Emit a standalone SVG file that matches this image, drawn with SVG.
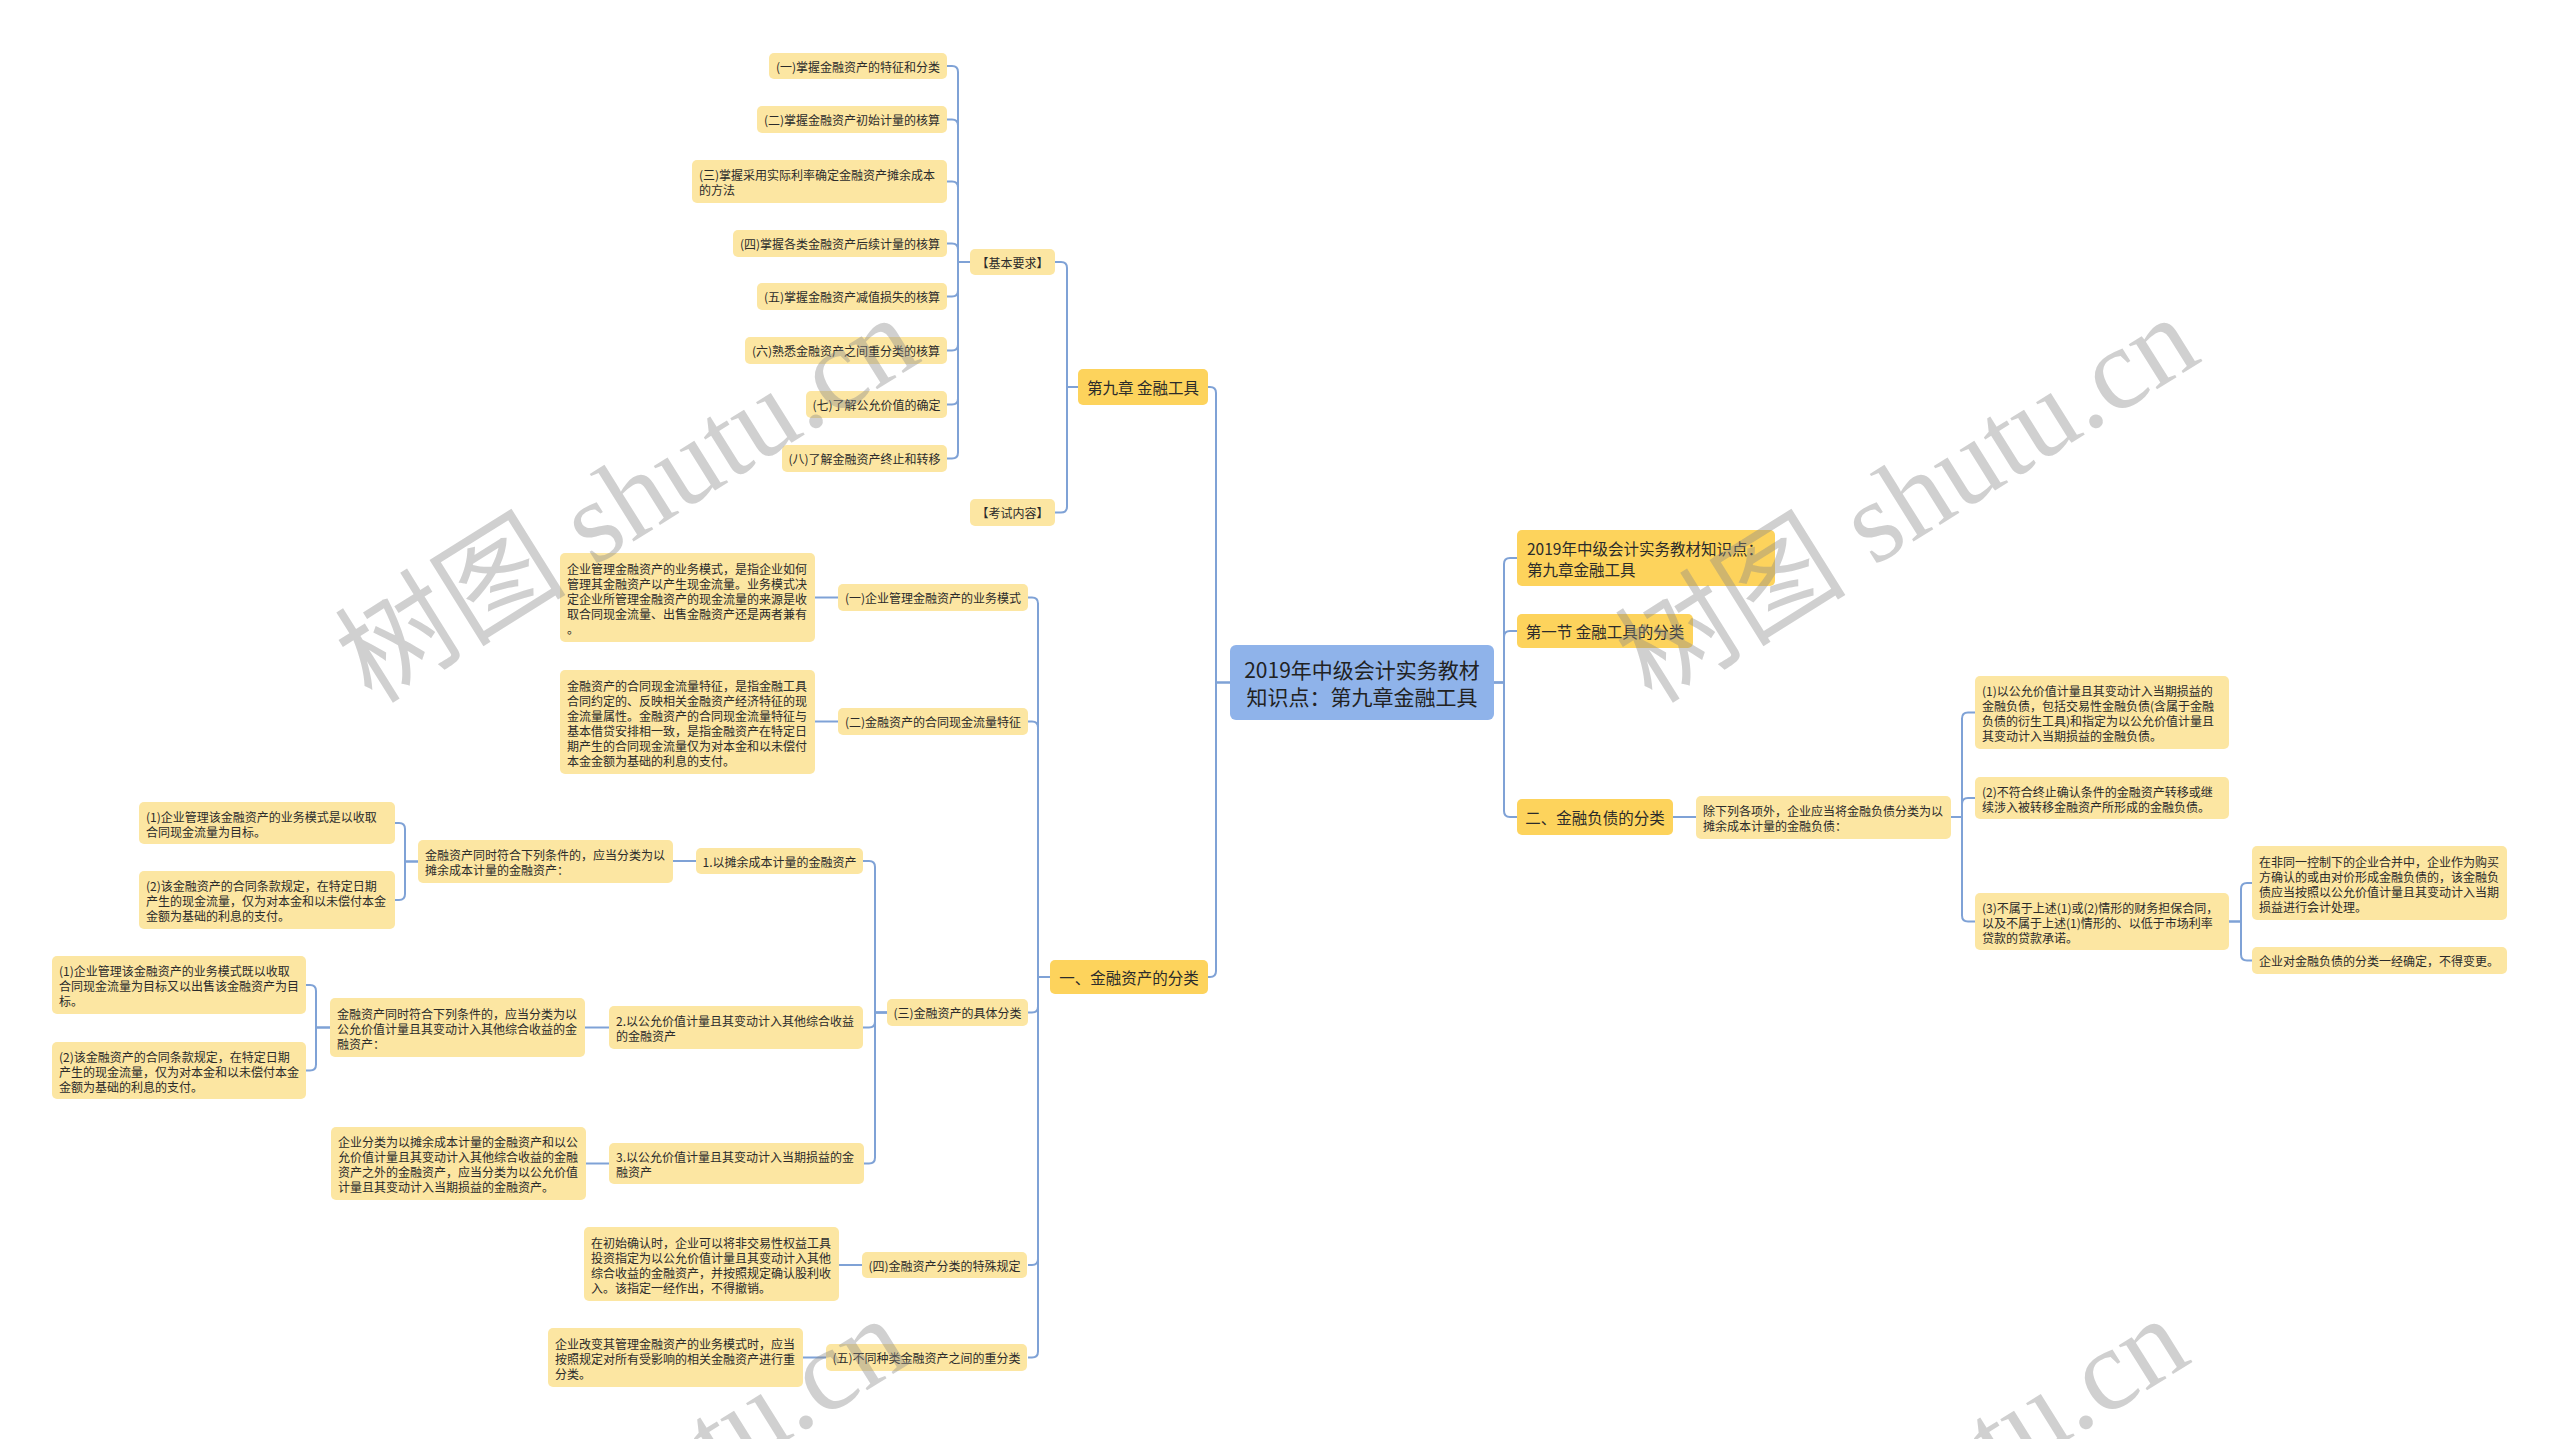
<svg xmlns="http://www.w3.org/2000/svg" width="2560" height="1439" viewBox="0 0 2560 1439">
<style>
text{font-family:"Noto Sans CJK SC","Noto Sans",sans-serif;fill:#2b2b2b;dominant-baseline:central}
.leaf rect{fill:#fce6a2}
.main rect{fill:#fdd35c}
.root rect{fill:#8fb3ea}
.leaf text{font-size:12px}
.main text{font-size:15.5px}
.root text{font-size:21px;fill:#222}
.c{text-anchor:middle}
#connectors path{fill:none;stroke:#7fa2d6;stroke-width:2}
.wm{font-family:"Liberation Serif","Noto Sans CJK SC",serif;font-size:116px;fill:#8a8a8a;fill-opacity:0.4;dominant-baseline:auto}
</style>
<rect width="2560" height="1439" fill="#ffffff"/>
<g id="connectors">
<path d="M970,262 H958 V72 Q958,66 952,66 H947"/>
<path d="M970,262 H958 V125.5 Q958,119.5 952,119.5 H947"/>
<path d="M970,262 H958 V187.5 Q958,181.5 952,181.5 H947"/>
<path d="M970,262 H958 V249.5 Q958,243.5 952,243.5 H947"/>
<path d="M970,262 H958 V290.5 Q958,296.5 952,296.5 H947"/>
<path d="M970,262 H958 V344.5 Q958,350.5 952,350.5 H947"/>
<path d="M970,262 H958 V398.5 Q958,404.5 952,404.5 H947"/>
<path d="M970,262 H958 V452.5 Q958,458.5 952,458.5 H947"/>
<path d="M1078,387 H1067 V268 Q1067,262 1061,262 H1055"/>
<path d="M1078,387 H1067 V506.5 Q1067,512.5 1061,512.5 H1055"/>
<path d="M1230,682.5 H1216 V393 Q1216,387 1210,387 H1208"/>
<path d="M1230,682.5 H1216 V971 Q1216,977 1210,977 H1208"/>
<path d="M1494,682.5 H1504 V564 Q1504,558 1510,558 H1517"/>
<path d="M1494,682.5 H1504 V637 Q1504,631 1510,631 H1517"/>
<path d="M1494,682.5 H1504 V811 Q1504,817 1510,817 H1517"/>
<path d="M1673,817 H1696"/>
<path d="M1951,817 H1962 V718.5 Q1962,712.5 1968,712.5 H1975"/>
<path d="M1951,817 H1962 V804 Q1962,798 1968,798 H1975"/>
<path d="M1951,817 H1962 V915.5 Q1962,921.5 1968,921.5 H1975"/>
<path d="M2229,921.5 H2241 V889 Q2241,883 2247,883 H2252"/>
<path d="M2229,921.5 H2241 V954.5 Q2241,960.5 2247,960.5 H2252"/>
<path d="M1050,977 H1038 V603.5 Q1038,597.5 1032,597.5 H1028"/>
<path d="M1050,977 H1038 V727.5 Q1038,721.5 1032,721.5 H1028"/>
<path d="M1050,977 H1038 V1006.5 Q1038,1012.5 1032,1012.5 H1028"/>
<path d="M1050,977 H1038 V1259 Q1038,1265 1032,1265 H1028"/>
<path d="M1050,977 H1038 V1351.5 Q1038,1357.5 1032,1357.5 H1028"/>
<path d="M838,597.5 H815"/>
<path d="M838,721.5 H815"/>
<path d="M887,1012.5 H875 V867 Q875,861 869,861 H863"/>
<path d="M887,1012.5 H875 V1021.5 Q875,1027.5 869,1027.5 H863"/>
<path d="M887,1012.5 H875 V1157.5 Q875,1163.5 869,1163.5 H864"/>
<path d="M696,861 H673"/>
<path d="M418,861.5 H405 V829 Q405,823 399,823 H395"/>
<path d="M418,861.5 H405 V894 Q405,900 399,900 H395"/>
<path d="M609,1027.5 H585"/>
<path d="M330,1027.5 H316 V991 Q316,985 310,985 H306"/>
<path d="M330,1027.5 H316 V1064.5 Q316,1070.5 310,1070.5 H306"/>
<path d="M609,1163.5 H586"/>
<path d="M862,1265 H839"/>
<path d="M826,1357.5 H803"/>
</g>

<g id="root" class="root"><rect x="1230" y="645" width="264" height="75" rx="6"/>
<text class="c"><tspan x="1362" y="669">2019年中级会计实务教材</tspan><tspan x="1362" y="696">知识点：第九章金融工具</tspan></text></g>

<g id="ch9" class="main"><rect x="1078" y="369" width="130" height="36" rx="5"/><text class="c" x="1143" y="387">第九章 金融工具</text></g>
<g id="basic" class="leaf"><rect x="970" y="249" width="85" height="26" rx="5"/><text class="c" x="1012.5" y="262">【基本要求】</text></g>
<g id="exam" class="leaf"><rect x="970" y="499" width="85" height="27" rx="5"/><text class="c" x="1012.5" y="512.5">【考试内容】</text></g>

<g id="b1" class="leaf"><rect x="769" y="53" width="178" height="26" rx="5"/><text class="c" x="858" y="66">(一)掌握金融资产的特征和分类</text></g>
<g id="b2" class="leaf"><rect x="757" y="106" width="190" height="27" rx="5"/><text class="c" x="852" y="119.5">(二)掌握金融资产初始计量的核算</text></g>
<g id="b3" class="leaf"><rect x="692" y="160" width="255" height="43" rx="5"/><text><tspan x="699" y="174">(三)掌握采用实际利率确定金融资产摊余成本</tspan><tspan x="699" y="189">的方法</tspan></text></g>
<g id="b4" class="leaf"><rect x="733" y="230" width="214" height="27" rx="5"/><text class="c" x="840" y="243.5">(四)掌握各类金融资产后续计量的核算</text></g>
<g id="b5" class="leaf"><rect x="757" y="283" width="190" height="27" rx="5"/><text class="c" x="852" y="296.5">(五)掌握金融资产减值损失的核算</text></g>
<g id="b6" class="leaf"><rect x="745" y="337" width="202" height="27" rx="5"/><text class="c" x="846" y="350.5">(六)熟悉金融资产之间重分类的核算</text></g>
<g id="b7" class="leaf"><rect x="806" y="391" width="141" height="27" rx="5"/><text class="c" x="876.5" y="404.5">(七)了解公允价值的确定</text></g>
<g id="b8" class="leaf"><rect x="782" y="445" width="165" height="27" rx="5"/><text class="c" x="864.5" y="458.5">(八)了解金融资产终止和转移</text></g>

<g id="sec1" class="main"><rect x="1050" y="960" width="158" height="34" rx="5"/><text class="c" x="1129" y="977">一、金融资产的分类</text></g>

<g id="a1" class="leaf"><rect x="838" y="584" width="190" height="27" rx="5"/><text class="c" x="933" y="597.5">(一)企业管理金融资产的业务模式</text></g>
<g id="a1d" class="leaf"><rect x="560" y="553" width="255" height="89" rx="5"/><text><tspan x="567" y="567.5">企业管理金融资产的业务模式，是指企业如何</tspan><tspan x="567" y="582.5">管理其金融资产以产生现金流量。业务模式决</tspan><tspan x="567" y="597.5">定企业所管理金融资产的现金流量的来源是收</tspan><tspan x="567" y="612.5">取合同现金流量、出售金融资产还是两者兼有</tspan><tspan x="567" y="627.5">。</tspan></text></g>
<g id="a2" class="leaf"><rect x="838" y="708" width="190" height="27" rx="5"/><text class="c" x="933" y="721.5">(二)金融资产的合同现金流量特征</text></g>
<g id="a2d" class="leaf"><rect x="560" y="670" width="255" height="104" rx="5"/><text><tspan x="567" y="684.5">金融资产的合同现金流量特征，是指金融工具</tspan><tspan x="567" y="699.5">合同约定的、反映相关金融资产经济特征的现</tspan><tspan x="567" y="714.5">金流量属性。金融资产的合同现金流量特征与</tspan><tspan x="567" y="729.5">基本借贷安排相一致，是指金融资产在特定日</tspan><tspan x="567" y="744.5">期产生的合同现金流量仅为对本金和以未偿付</tspan><tspan x="567" y="759.5">本金金额为基础的利息的支付。</tspan></text></g>
<g id="a3" class="leaf"><rect x="887" y="999" width="141" height="27" rx="5"/><text class="c" x="957.5" y="1012.5">(三)金融资产的具体分类</text></g>

<g id="c1" class="leaf"><rect x="696" y="848" width="167" height="26" rx="5"/><text class="c" x="779.5" y="861">1.以摊余成本计量的金融资产</text></g>
<g id="c1d" class="leaf"><rect x="418" y="840" width="255" height="43" rx="5"/><text><tspan x="425" y="854">金融资产同时符合下列条件的，应当分类为以</tspan><tspan x="425" y="869">摊余成本计量的金融资产：</tspan></text></g>
<g id="c1d1" class="leaf"><rect x="139" y="802" width="256" height="42" rx="5"/><text><tspan x="146" y="815.5">(1)企业管理该金融资产的业务模式是以收取</tspan><tspan x="146" y="830.5">合同现金流量为目标。</tspan></text></g>
<g id="c1d2" class="leaf"><rect x="139" y="871" width="256" height="58" rx="5"/><text><tspan x="146" y="885">(2)该金融资产的合同条款规定，在特定日期</tspan><tspan x="146" y="900">产生的现金流量，仅为对本金和以未偿付本金</tspan><tspan x="146" y="915">金额为基础的利息的支付。</tspan></text></g>

<g id="c2" class="leaf"><rect x="609" y="1006" width="254" height="43" rx="5"/><text><tspan x="616" y="1020">2.以公允价值计量且其变动计入其他综合收益</tspan><tspan x="616" y="1035">的金融资产</tspan></text></g>
<g id="c2d" class="leaf"><rect x="330" y="998" width="255" height="59" rx="5"/><text><tspan x="337" y="1012.5">金融资产同时符合下列条件的，应当分类为以</tspan><tspan x="337" y="1027.5">公允价值计量且其变动计入其他综合收益的金</tspan><tspan x="337" y="1042.5">融资产：</tspan></text></g>
<g id="c2d1" class="leaf"><rect x="52" y="956" width="254" height="58" rx="5"/><text><tspan x="59" y="970">(1)企业管理该金融资产的业务模式既以收取</tspan><tspan x="59" y="985">合同现金流量为目标又以出售该金融资产为目</tspan><tspan x="59" y="1000">标。</tspan></text></g>
<g id="c2d2" class="leaf"><rect x="52" y="1042" width="254" height="57" rx="5"/><text><tspan x="59" y="1055.5">(2)该金融资产的合同条款规定，在特定日期</tspan><tspan x="59" y="1070.5">产生的现金流量，仅为对本金和以未偿付本金</tspan><tspan x="59" y="1085.5">金额为基础的利息的支付。</tspan></text></g>

<g id="c3" class="leaf"><rect x="609" y="1143" width="255" height="41" rx="5"/><text><tspan x="616" y="1156">3.以公允价值计量且其变动计入当期损益的金</tspan><tspan x="616" y="1171">融资产</tspan></text></g>
<g id="c3d" class="leaf"><rect x="331" y="1127" width="255" height="73" rx="5"/><text><tspan x="338" y="1141">企业分类为以摊余成本计量的金融资产和以公</tspan><tspan x="338" y="1156">允价值计量且其变动计入其他综合收益的金融</tspan><tspan x="338" y="1171">资产之外的金融资产，应当分类为以公允价值</tspan><tspan x="338" y="1186">计量且其变动计入当期损益的金融资产。</tspan></text></g>

<g id="a4" class="leaf"><rect x="862" y="1252" width="165" height="26" rx="5"/><text class="c" x="944.5" y="1265">(四)金融资产分类的特殊规定</text></g>
<g id="a4d" class="leaf"><rect x="584" y="1227" width="255" height="74" rx="5"/><text><tspan x="591" y="1241.5">在初始确认时，企业可以将非交易性权益工具</tspan><tspan x="591" y="1256.5">投资指定为以公允价值计量且其变动计入其他</tspan><tspan x="591" y="1271.5">综合收益的金融资产，并按照规定确认股利收</tspan><tspan x="591" y="1286.5">入。该指定一经作出，不得撤销。</tspan></text></g>
<g id="a5" class="leaf"><rect x="826" y="1344" width="201" height="27" rx="5"/><text class="c" x="926.5" y="1357.5">(五)不同种类金融资产之间的重分类</text></g>
<g id="a5d" class="leaf"><rect x="548" y="1328" width="255" height="59" rx="5"/><text><tspan x="555" y="1342.5">企业改变其管理金融资产的业务模式时，应当</tspan><tspan x="555" y="1357.5">按照规定对所有受影响的相关金融资产进行重</tspan><tspan x="555" y="1372.5">分类。</tspan></text></g>

<g id="r1" class="main"><rect x="1517" y="530" width="258" height="56" rx="5"/><text><tspan x="1527" y="547.5">2019年中级会计实务教材知识点：</tspan><tspan x="1527" y="568.5">第九章金融工具</tspan></text></g>
<g id="r2" class="main"><rect x="1517" y="614" width="176" height="34" rx="5"/><text class="c" x="1605" y="631">第一节 金融工具的分类</text></g>
<g id="r3" class="main"><rect x="1517" y="799" width="156" height="36" rx="5"/><text class="c" x="1595" y="817">二、金融负债的分类</text></g>
<g id="r3d" class="leaf"><rect x="1696" y="796" width="255" height="43" rx="5"/><text><tspan x="1703" y="809.5">除下列各项外，企业应当将金融负债分类为以</tspan><tspan x="1703" y="824.5">摊余成本计量的金融负债：</tspan></text></g>
<g id="l1" class="leaf"><rect x="1975" y="676" width="254" height="73" rx="5"/><text><tspan x="1982" y="690">(1)以公允价值计量且其变动计入当期损益的</tspan><tspan x="1982" y="705">金融负债，包括交易性金融负债(含属于金融</tspan><tspan x="1982" y="720">负债的衍生工具)和指定为以公允价值计量且</tspan><tspan x="1982" y="735">其变动计入当期损益的金融负债。</tspan></text></g>
<g id="l2" class="leaf"><rect x="1975" y="777" width="254" height="42" rx="5"/><text><tspan x="1982" y="790.5">(2)不符合终止确认条件的金融资产转移或继</tspan><tspan x="1982" y="805.5">续涉入被转移金融资产所形成的金融负债。</tspan></text></g>
<g id="l3" class="leaf"><rect x="1975" y="893" width="254" height="57" rx="5"/><text><tspan x="1982" y="906.5">(3)不属于上述(1)或(2)情形的财务担保合同，</tspan><tspan x="1982" y="921.5">以及不属于上述(1)情形的、以低于市场利率</tspan><tspan x="1982" y="936.5">贷款的贷款承诺。</tspan></text></g>
<g id="l3a" class="leaf"><rect x="2252" y="846" width="255" height="74" rx="5"/><text><tspan x="2259" y="860.5">在非同一控制下的企业合并中，企业作为购买</tspan><tspan x="2259" y="875.5">方确认的或由对价形成金融负债的，该金融负</tspan><tspan x="2259" y="890.5">债应当按照以公允价值计量且其变动计入当期</tspan><tspan x="2259" y="905.5">损益进行会计处理。</tspan></text></g>
<g id="l3b" class="leaf"><rect x="2252" y="947" width="255" height="27" rx="5"/><text x="2259" y="960.5">企业对金融负债的分类一经确定，不得变更。</text></g>

<g id="watermarks">
<text class="wm" transform="translate(372,705) rotate(-32)">树图 shutu.cn</text>
<text class="wm" transform="translate(1652,705) rotate(-32)">树图 shutu.cn</text>
<text class="wm" transform="translate(362,1706) rotate(-32)">树图 shutu.cn</text>
<text class="wm" transform="translate(1642,1706) rotate(-32)">树图 shutu.cn</text>
</g>
</svg>
